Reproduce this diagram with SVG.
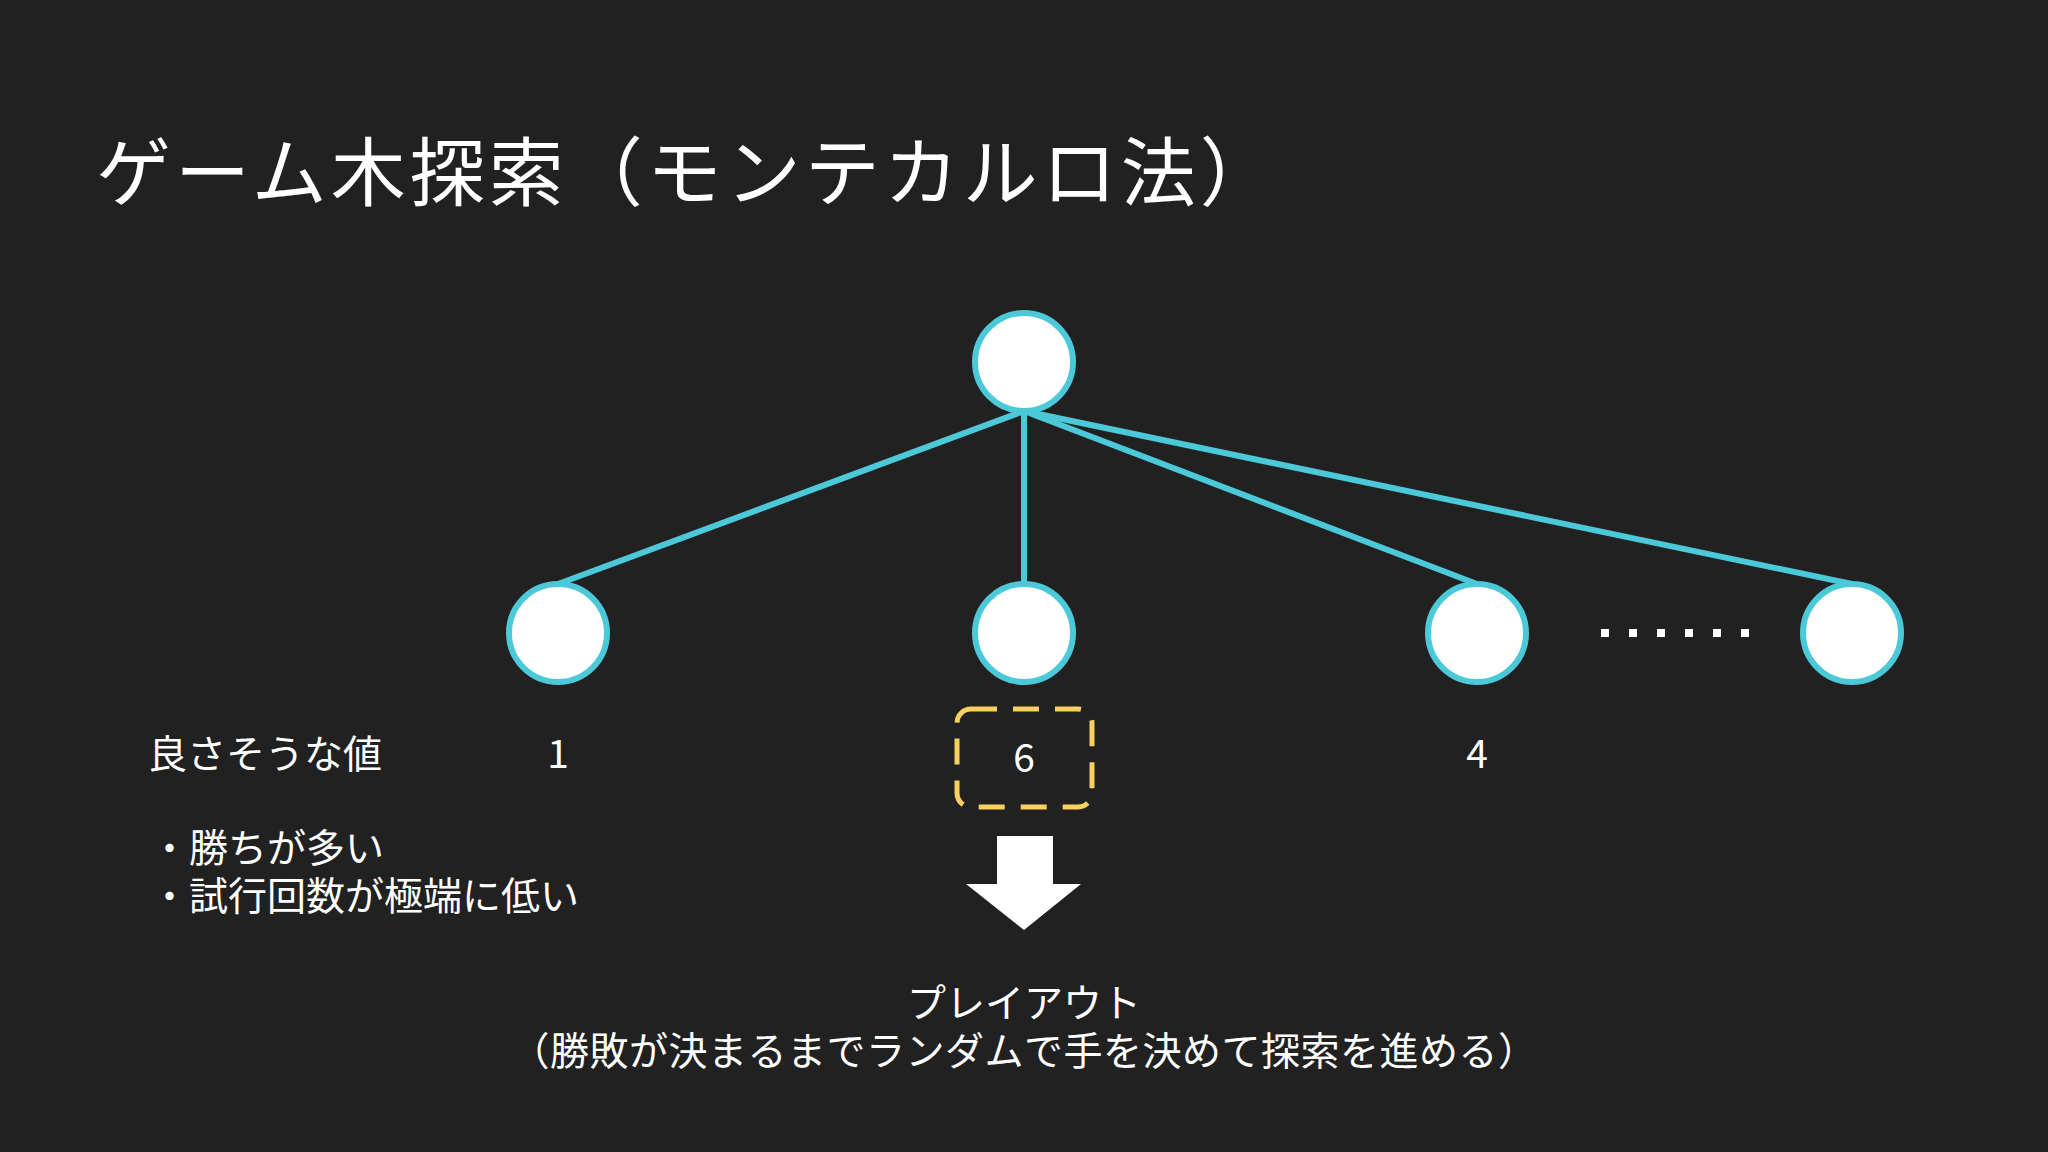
<svg xmlns="http://www.w3.org/2000/svg" width="2048" height="1152" viewBox="0 0 2048 1152">
<style>
text{font-family:"Noto Sans CJK JP","Noto Sans",sans-serif;fill:#fff}
.n{fill:#fff;stroke:#4cc9d9;stroke-width:6}
.e{stroke:#4cc9d9;stroke-width:6;fill:none}
.t{font-size:39px}
</style>
<rect width="2048" height="1152" fill="#212121"/>
<text x="96" y="200" font-size="75" letter-spacing="4">ゲーム木探索（モンテカルロ法）</text>
<g id="edges">
<line class="e" x1="1024" y1="411" x2="558" y2="584"/>
<line class="e" x1="1024" y1="411" x2="1024" y2="584"/>
<line class="e" x1="1024" y1="411" x2="1477" y2="584"/>
<line class="e" x1="1024" y1="411" x2="1852" y2="584"/>
</g>
<g id="root"><circle class="n" cx="1024" cy="362" r="49"/></g>
<g id="c1"><circle class="n" cx="558" cy="633" r="49"/></g>
<g id="c2"><circle class="n" cx="1024" cy="633" r="49"/></g>
<g id="c3"><circle class="n" cx="1477" cy="633" r="49"/></g>
<g id="c4"><circle class="n" cx="1852" cy="633" r="49"/></g>
<g id="dots" fill="#fff">
<rect x="1601" y="629" width="8" height="8"/><rect x="1629" y="629" width="8" height="8"/><rect x="1657" y="629" width="8" height="8"/><rect x="1685" y="629" width="8" height="8"/><rect x="1713" y="629" width="8" height="8"/><rect x="1741" y="629" width="8" height="8"/>
</g>
<text class="t" x="148" y="768">良さそうな値</text>
<text class="t" x="558" y="768" text-anchor="middle" font-family="Liberation Sans">1</text>
<text class="t" x="1024" y="772" text-anchor="middle" font-family="Liberation Sans">6</text>
<text class="t" x="1477" y="768" text-anchor="middle" font-family="Liberation Sans">4</text>
<rect id="sel" x="957" y="709" width="135" height="98" rx="14" fill="none" stroke="#f7d060" stroke-width="5" stroke-dasharray="26 16"/>
<text class="t" x="150" y="862">・勝ちが多い</text>
<text class="t" x="150" y="910">・試行回数が極端に低い</text>
<polygon id="arrow" fill="#fff" points="997,836 1053,836 1053,884 1081,884 1024,930 966,884 997,884"/>
<text class="t" x="1024" y="1017" text-anchor="middle">プレイアウト</text>
<text class="t" x="1024" y="1065" text-anchor="middle" letter-spacing="0.5">（勝敗が決まるまでランダムで手を決めて探索を進める）</text>
</svg>
